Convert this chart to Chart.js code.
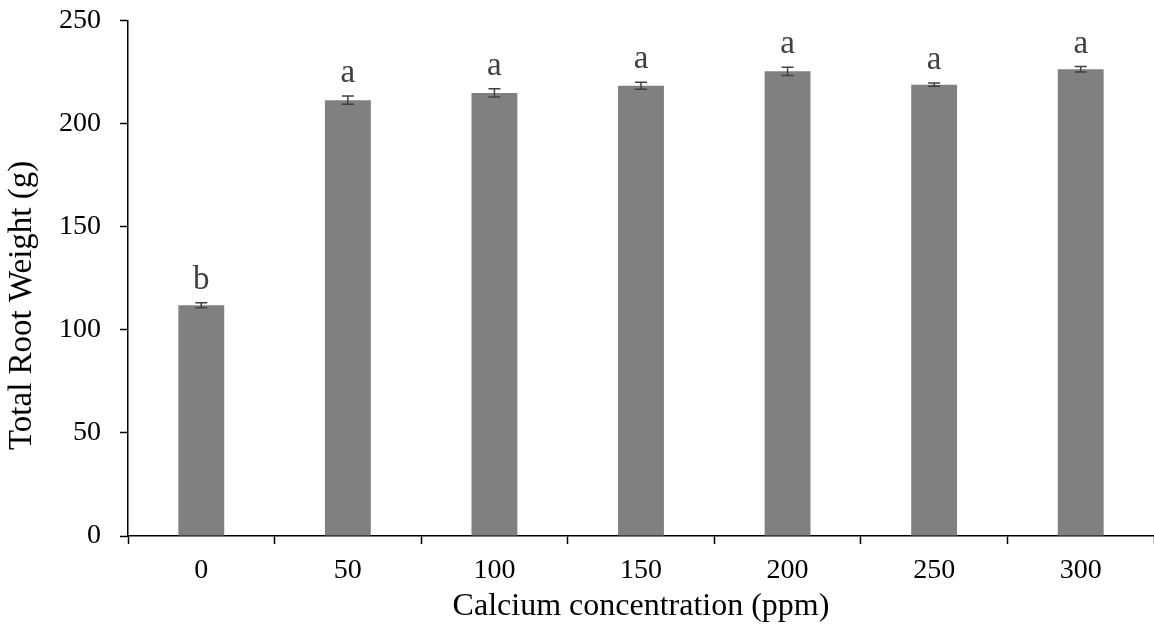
<!DOCTYPE html>
<html>
<head>
<meta charset="utf-8">
<script src="https://cdn.jsdelivr.net/npm/chart.js@4/dist/chart.umd.min.js"></script>
<style>
  html, body { margin: 0; padding: 0; background: #fff; }
  #wrap { width: 1154px; height: 635px; overflow: hidden; }
  #myChart { display: block; margin-top: -15px; }
</style>
</head>
<body>
<div id="wrap"><canvas id="myChart" width="1154" height="650"></canvas></div>
<script>
var xLabels = ["0", "50", "100", "150", "200", "250", "300"];
var rootWeight = [112, 211.5, 215, 218.5, 225.5, 219, 226.5];
var errValues = [1.2, 2, 2, 1.7, 2, 0.8, 1.3];
var letters = ["b", "a", "a", "a", "a", "a", "a"];
var yTitle = "Total Root Weight (g)";

var serif = "'Liberation Serif', 'Times New Roman', serif";

// error bars + letters above each bar, y title drawn by hand (sits a bit low like the original)
var errorBarPlugin = {
    id: "errorBars",
    afterDatasetsDraw: function(chart) {
        var ctx = chart.ctx;
        var xs = chart.scales.x;
        var ys = chart.scales.y;
        ctx.save();
        ctx.strokeStyle = "#404040";
        ctx.lineWidth = 1.5;
        for (var i = 0; i < rootWeight.length; i++) {
            var cx = xs.getPixelForValue(i);
            var top = ys.getPixelForValue(rootWeight[i] + errValues[i]);
            var bot = ys.getPixelForValue(rootWeight[i] - errValues[i]);
            ctx.beginPath();
            ctx.moveTo(cx, top); ctx.lineTo(cx, bot);
            ctx.moveTo(cx - 6, top); ctx.lineTo(cx + 6, top);
            ctx.moveTo(cx - 6, bot); ctx.lineTo(cx + 6, bot);
            ctx.stroke();
            ctx.fillStyle = "#404040";
            ctx.font = "33px " + serif;
            ctx.textAlign = "center";
            ctx.textBaseline = "alphabetic";
            ctx.fillText(letters[i], cx, top - 14);
        }
        var area = chart.chartArea;
        ctx.translate(22, (area.top + area.bottom) / 2 + 27);
        ctx.rotate(-Math.PI / 2);
        ctx.fillStyle = "#000";
        ctx.font = "33px " + serif;
        ctx.textBaseline = "middle";
        ctx.fillText(yTitle, 0, 0);
        ctx.restore();
    }
};

new Chart(document.getElementById("myChart"), {
    type: "bar",
    data: {
        labels: xLabels,
        datasets: [{
            data: rootWeight,
            backgroundColor: "#808080",
            borderWidth: 0,
            barPercentage: 0.313,
            categoryPercentage: 1.0
        }]
    },
    options: {
        responsive: false,
        animation: false,
        layout: { padding: { top: 0, right: -2, left: 40, bottom: 9 } },
        plugins: {
            legend: { display: false },
            tooltip: { enabled: false }
        },
        scales: {
            x: {
                grid: {
                    display: true,
                    drawOnChartArea: false,
                    drawTicks: true,
                    tickLength: 8,
                    tickColor: "#000",
                    tickWidth: 1.5,
                    offset: true
                },
                border: { display: true, color: "#000", width: 1.5 },
                ticks: {
                    color: "#000",
                    font: { family: serif, size: 28 },
                    padding: 10
                },
                title: {
                    display: true,
                    text: "Calcium concentration (ppm)",
                    color: "#000",
                    font: { family: serif, size: 32 },
                    padding: { top: -10, bottom: 0 }
                }
            },
            y: {
                min: 0,
                max: 250,
                grid: {
                    display: true,
                    drawOnChartArea: false,
                    drawTicks: true,
                    tickLength: 8,
                    tickColor: "#000",
                    tickWidth: 1.5
                },
                border: { display: true, color: "#000", width: 1.5 },
                ticks: {
                    stepSize: 50,
                    color: "#000",
                    font: { family: serif, size: 28 },
                    padding: 19
                },
                title: { display: false }
            }
        }
    },
    plugins: [errorBarPlugin]
});
</script>
</body>
</html>
